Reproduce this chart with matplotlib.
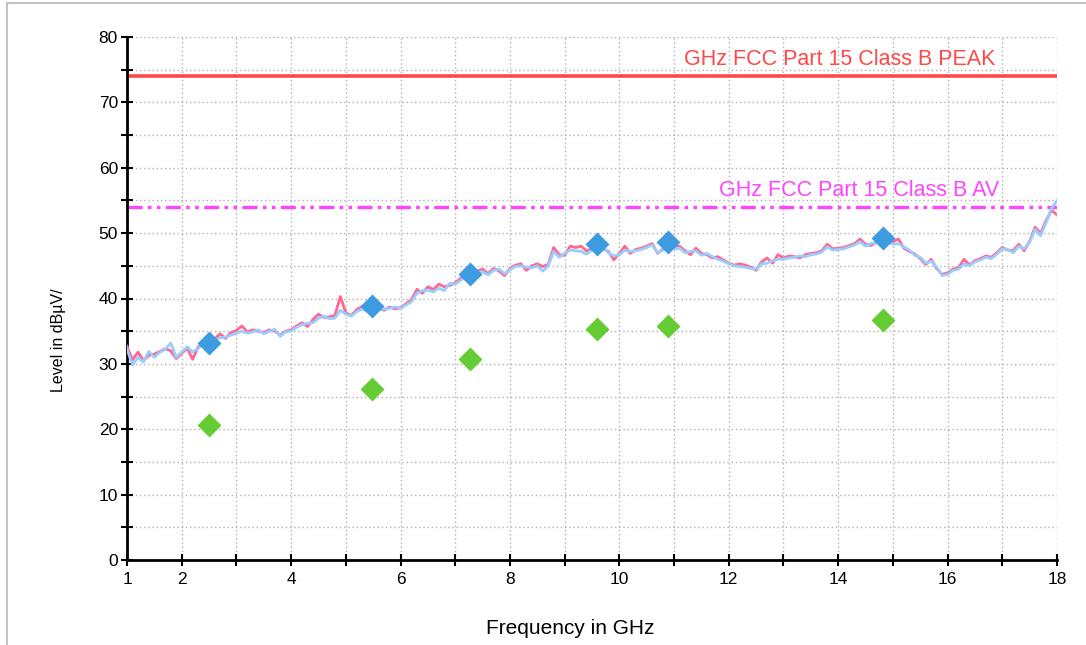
import numpy as np
import matplotlib.pyplot as plt
from matplotlib.lines import Line2D

plt.rcParams['font.family'] = ['Liberation Sans', 'DejaVu Sans']

# ===================== data =====================
freq = [round(1.0 + 0.1 * i, 1) for i in range(171)]  # GHz, 0.1 GHz steps

# pink trace (peak detector sweep)
level_pk = [
    32.7, 30.6, 31.8, 30.5, 31.3, 31.5, 31.9, 32.3, 32.0, 30.8,
    31.6, 32.4, 30.7, 32.6, 33.2, 33.0, 33.8, 34.6, 33.9, 34.8,
    35.1, 35.8, 34.9, 35.2, 35.0, 34.8, 35.2, 35.0, 34.4, 35.0,
    35.2, 35.8, 36.3, 35.7, 36.8, 37.6, 37.1, 37.2, 37.4, 40.3,
    37.8, 37.4, 38.3, 38.8, 38.2, 38.9, 38.6, 38.2, 38.7, 38.4,
    38.6, 39.2, 39.8, 41.4, 40.8, 41.8, 41.4, 42.2, 41.8, 42.0,
    42.4, 43.1, 43.4, 43.8, 44.2, 44.5, 43.8, 44.6, 44.2, 43.5,
    44.6, 45.1, 45.3, 44.3, 45.0, 45.3, 44.9, 45.2, 47.8, 46.7,
    46.6, 48.0, 47.8, 48.0, 47.3, 47.6, 48.2, 47.6, 47.2, 45.9,
    46.9, 48.0, 46.9, 47.5, 47.7, 48.0, 48.4, 46.9, 47.6, 48.4,
    47.9, 48.0, 47.3, 46.7, 47.7, 46.9, 46.7, 46.2, 46.4, 45.9,
    45.4, 45.1, 45.3, 45.1, 44.8, 44.3, 45.6, 46.2, 45.4, 46.7,
    46.2, 46.5, 46.4, 46.2, 46.7, 46.9, 47.0, 47.3, 48.3, 47.6,
    47.7, 47.8, 48.1, 48.4, 49.1, 48.3, 48.1, 48.6, 49.0, 48.8,
    48.7, 49.1, 47.7, 47.2, 46.8, 46.1, 45.2, 46.0, 44.6, 43.7,
    43.9, 44.5, 44.7, 46.0, 45.1, 45.8, 46.1, 46.5, 46.3, 47.0,
    47.8, 47.4, 47.3, 48.3, 47.3, 48.8, 50.9, 50.0, 51.9, 53.5,
    52.8,
]

# light blue trace
level_bl = [
    32.3, 29.8, 31.0, 30.3, 31.9, 31.0, 31.8, 32.2, 33.2, 31.0,
    31.8, 32.6, 31.8, 32.4, 33.0, 32.8, 33.6, 34.0, 34.1, 34.4,
    34.7, 35.0, 34.7, 34.9, 35.2, 34.6, 35.0, 35.3, 34.2, 34.9,
    35.0, 35.6, 36.0, 36.2, 36.3, 37.0, 37.3, 36.9, 37.0, 38.2,
    37.6, 37.3, 38.0, 38.4, 38.0, 38.7, 38.4, 38.4, 38.5, 38.7,
    38.5, 39.0, 39.5, 40.8, 41.2, 41.3, 41.0, 41.6, 41.2, 42.3,
    42.2, 42.8, 43.3, 43.5, 44.0, 44.1, 43.6, 44.3, 44.5, 43.8,
    44.4, 44.9, 45.0, 44.8, 44.7, 45.0, 44.2, 45.0, 47.2, 46.3,
    46.9, 47.4, 47.3, 47.2, 46.8, 47.4, 47.9, 47.8, 47.0, 46.5,
    46.7, 47.4, 47.2, 47.3, 47.5, 47.8, 48.2, 47.0, 47.4, 48.1,
    47.6, 47.7, 47.0, 47.2, 47.3, 46.6, 46.9, 46.4, 46.0, 45.7,
    45.3, 45.0, 44.9, 44.8, 44.6, 44.5, 45.3, 45.4, 45.8, 46.0,
    46.0, 46.2, 46.3, 46.5, 46.4, 46.7, 46.8, 47.1, 47.9, 47.4,
    47.5, 47.6, 47.9, 48.2, 48.7, 48.0, 48.4, 48.5, 48.8, 48.6,
    48.3, 48.4, 47.9, 47.4, 46.6, 46.3, 45.4, 45.7, 44.8, 43.5,
    43.7, 44.3, 44.5, 45.3, 45.0, 45.6, 45.9, 46.3, 46.1, 46.8,
    47.6, 47.5, 47.0, 48.0, 47.6, 48.6, 50.6, 49.6, 51.6, 53.8,
    55.0,
]

# final measurement points
peak_f = [2.5, 5.48, 7.27, 9.6, 10.89, 14.82]
peak_lvl = [33.2, 38.8, 43.7, 48.3, 48.6, 49.2]
avg_f = [2.5, 5.48, 7.27, 9.6, 10.89, 14.82]
avg_lvl = [20.6, 26.1, 30.7, 35.3, 35.8, 36.7]

# limit lines
limit_peak = 74.0
limit_av = 54.0
limit_peak_label = 'GHz FCC Part 15 Class B PEAK'
limit_av_label = 'GHz FCC Part 15 Class B AV'

x_major = [1, 2, 4, 6, 8, 10, 12, 14, 16, 18]
x_minor = [3, 5, 7, 9, 11, 13, 15, 17]

# ===================== figure =====================
W, H = 1086, 645
fig = plt.figure(figsize=(W / 100, H / 100), dpi=100, facecolor='white')

# grey frame of the screenshot
fig.add_artist(Line2D([7 / W, 7 / W], [0, 1 - 3 / H], color='#c4c4c4', lw=1.5))
fig.add_artist(Line2D([7 / W, 1.0], [1 - 3 / H, 1 - 3 / H], color='#c4c4c4', lw=1.5))

ax = fig.add_axes([127 / W, 85 / H, 930 / W, 523 / H])
ax.set_xlim(1, 18)
ax.set_ylim(0, 80)

# dotted grid
for g in range(2, 19):
    ax.axvline(g, color='#b0b0b0', lw=1.0, ls=(0, (1, 2)), zorder=0)
for g in range(5, 81, 5):
    ax.axhline(g, color='#b0b0b0', lw=1.0, ls=(0, (1, 2)), zorder=0)

# limit lines
ax.axhline(limit_peak, color='#ff4848', lw=2.6, zorder=2)
ax.axhline(limit_av, color='#ff44ff', lw=2.4, ls=(0, (4.5, 1.6, 1.1, 1.6, 1.1, 1.6)), zorder=2)
ax.text(16.87, limit_peak + 1.0, limit_peak_label, color='#ff4848', fontsize=15.5,
        ha='right', va='bottom')
ax.text(16.95, limit_av + 0.9, limit_av_label, color='#ff44ff', fontsize=15.5,
        ha='right', va='bottom')

# sweep traces
ax.plot(freq, level_pk, color='#ff6690', lw=2.0, zorder=3)
ax.plot(freq, level_bl, color='#99ccff', lw=2.0, zorder=4)

# measurement markers
ax.plot(peak_f, peak_lvl, 'D', color='#3d9be0', ms=12.5, mec='none', zorder=5)
ax.plot(avg_f, avg_lvl, 'D', color='#66cc33', ms=12.5, mec='none', zorder=5)

# axes style
for side in ['top', 'right']:
    ax.spines[side].set_visible(False)
ax.spines['left'].set_linewidth(2)
ax.spines['bottom'].set_linewidth(2)

ax.set_xticks(x_major)
ax.set_xticks(x_minor, minor=True)
ax.set_xticklabels([str(v) for v in x_major])
ax.set_yticks(range(0, 81, 10))
ax.set_yticks(range(5, 81, 10), minor=True)
ax.tick_params(axis='both', which='both', direction='inout', length=9, width=1.5,
               labelsize=12.5, color='black')
ax.tick_params(axis='x', pad=4)
ax.tick_params(axis='y', pad=2)

fig.text(59 / W, 1 - 340 / H, 'Level in dBµV/', rotation=90, fontsize=11.5,
         ha='center', va='center')
fig.text(570 / W, 1 - 634 / H, 'Frequency in GHz', fontsize=15,
         ha='center', va='baseline')

fig.savefig('out.png', dpi=100)
